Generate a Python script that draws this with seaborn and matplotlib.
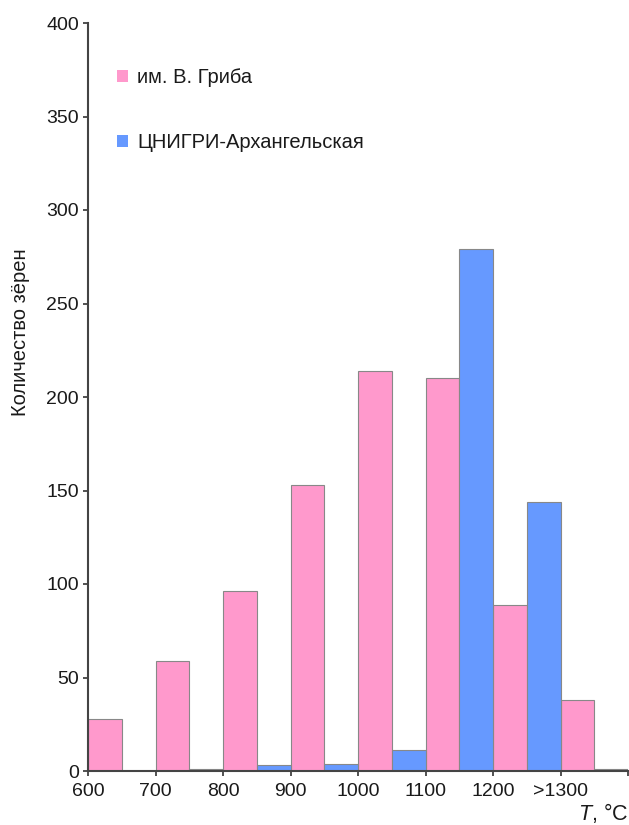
import matplotlib
matplotlib.use("Agg")
import matplotlib.pyplot as plt
import seaborn as sns
import pandas as pd

categories = ["600", "700", "800", "900", "1000", "1100", "1200", ">1300"]
griba = [28, 59, 96, 153, 214, 210, 89, 38]
cnigri = [0, 1, 3, 4, 11, 279, 144, 1]
series_names = ["им. В. Гриба", "ЦНИГРИ-Архангельская"]
colors = ["#FF99CC", "#6699FF"]

sns.set_theme(style="white")
plt.rcParams["font.family"] = ["Liberation Sans", "DejaVu Sans"]
plt.rcParams["mathtext.fontset"] = "custom"
plt.rcParams["mathtext.it"] = "Liberation Sans:italic"
plt.rcParams["mathtext.rm"] = "Liberation Sans"

df = pd.DataFrame({
    "cat": categories * 2,
    "val": griba + cnigri,
    "series": [series_names[0]] * len(categories) + [series_names[1]] * len(categories),
})

fig = plt.figure(figsize=(6.29, 8.25), dpi=100)
ax = fig.add_axes([88 / 629, 54 / 825, 540 / 629, 748 / 825])

sns.barplot(data=df, x="cat", y="val", hue="series", order=categories,
            hue_order=series_names, palette=colors, width=1.0, gap=0,
            edgecolor="#888888", linewidth=0.8, saturation=1, ax=ax)

n = len(categories)
ax.set_xlim(-0.5, n - 0.5)
ax.set_ylim(0, 400)
ax.set_xticks([i - 0.5 for i in range(n)] + [n - 0.5])
ax.set_xticklabels(categories + [""])
ax.set_yticks(range(0, 401, 50))
ax.tick_params(axis="both", labelsize=14, length=3.6, width=1.2, color="#333333",
               direction="out", left=True, bottom=True, pad=3, labelcolor="#1a1a1a")
ax.tick_params(axis="x", pad=5)
for s in ["top", "right"]:
    ax.spines[s].set_visible(False)
for s in ["left", "bottom"]:
    ax.spines[s].set_color("#444444")
    ax.spines[s].set_linewidth(1.5)

ax.set_ylabel("Количество зёрен", fontsize=14.5, color="#1a1a1a")
ax.yaxis.set_label_coords(-0.108, 0.587)
ax.set_xlabel(r"$\mathit{T}$, °C", fontsize=15.5, loc="right", labelpad=1, color="#1a1a1a")

leg = ax.legend(loc="upper left", bbox_to_anchor=(0.0537, 0.940), frameon=False,
                fontsize=14.5, handlelength=0.55, handleheight=0.55,
                handletextpad=0.45, labelspacing=2.3, borderpad=0,
                borderaxespad=0)
for h in leg.legend_handles:
    h.set_edgecolor("none")
for t in leg.get_texts():
    t.set_color("#1a1a1a")

fig.savefig("out.png", dpi=100)
